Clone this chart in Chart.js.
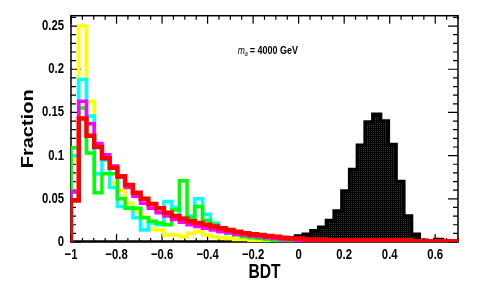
<!DOCTYPE html>
<html>
<head>
<meta charset="utf-8">
<script src="https://cdn.jsdelivr.net/npm/chart.js@4.4.0/dist/chart.umd.min.js"></script>
<style>
html, body { margin: 0; padding: 0; background: #fff; }
</style>
</head>
<body>
<canvas id="myChart" width="477" height="307"></canvas>
<script>
// histogram binning: 50 bins from -1 to 0.7
var xMin = -1;
var xMax = 0.7;
var binWidth = 0.034;
var yMax = 0.262;

var xTicks = [-1, -0.8, -0.6, -0.4, -0.2, 0, 0.2, 0.4, 0.6];
var yTicks = [0, 0.05, 0.1, 0.15, 0.2, 0.25];

// fraction per bin
var yellowVals = [0.095, 0.250, 0.163, 0.112, 0.100, 0.068, 0.060, 0.045, 0.035, 0.029,
                  0.015, 0.014, 0.008, 0.008, 0.006, 0.010, 0.012, 0.008, 0.006, 0.005,
                  0.004, 0.003, 0.003, 0.002, 0.002, 0.001, 0.001, 0.001, 0.001, 0.001,
                  0.001, 0.001, 0.001, 0.001, 0.001, 0.001, 0.001, 0.001, 0.001, 0.001,
                  0.001, 0.001, 0.001, 0.001, 0.001, 0.001, 0.001, 0.001, 0.001, 0.001];
var cyanVals = [0.100, 0.188, 0.146, 0.079, 0.095, 0.063, 0.041, 0.040, 0.028, 0.014,
                0.022, 0.020, 0.047, 0.040, 0.028, 0.030, 0.050, 0.032, 0.022, 0.016,
                0.013, 0.011, 0.009, 0.007, 0.006, 0.005, 0.004, 0.003, 0.002, 0.002,
                0.001, 0.001, 0.001, 0.001, 0.001, 0.001, 0.001, 0.001, 0.001, 0.001,
                0.001, 0.001, 0.001, 0.001, 0.001, 0.001, 0.001, 0.001, 0.001, 0.001];
var greenVals = [0.109, 0.155, 0.103, 0.057, 0.079, 0.079, 0.050, 0.039, 0.039, 0.028,
                 0.024, 0.022, 0.020, 0.037, 0.071, 0.028, 0.041, 0.025, 0.020, 0.013,
                 0.010, 0.008, 0.006, 0.005, 0.004, 0.003, 0.002, 0.002, 0.001, 0.001,
                 0.001, 0.001, 0.001, 0.001, 0.001, 0.001, 0.001, 0.001, 0.001, 0.001,
                 0.001, 0.001, 0.001, 0.001, 0.001, 0.001, 0.001, 0.001, 0.001, 0.001];
var magentaVals = [0.058, 0.163, 0.137, 0.114, 0.101, 0.088, 0.075, 0.063, 0.053, 0.045,
                   0.039, 0.034, 0.030, 0.026, 0.023, 0.020, 0.018, 0.016, 0.014, 0.012,
                   0.011, 0.009, 0.008, 0.007, 0.006, 0.005, 0.004, 0.003, 0.003, 0.002,
                   0.002, 0.002, 0.001, 0.001, 0.001, 0.001, 0.001, 0.001, 0.001, 0.001,
                   0.001, 0.001, 0.001, 0.001, 0.001, 0.001, 0.001, 0.001, 0.001, 0.001];
var redVals = [0.048, 0.143, 0.123, 0.110, 0.097, 0.086, 0.076, 0.066, 0.057, 0.050,
               0.044, 0.039, 0.034, 0.030, 0.027, 0.024, 0.022, 0.020, 0.018, 0.016,
               0.014, 0.012, 0.010, 0.009, 0.008, 0.007, 0.006, 0.005, 0.004, 0.004,
               0.003, 0.003, 0.003, 0.002, 0.002, 0.002, 0.002, 0.002, 0.002, 0.002,
               0.002, 0.002, 0.002, 0.002, 0.001, 0.001, 0.001, 0.001, 0.001, 0.001];
var blackVals = [0, 0, 0, 0, 0, 0, 0, 0, 0, 0,
                 0, 0, 0, 0, 0, 0, 0, 0, 0, 0,
                 0, 0, 0, 0, 0.001, 0.001, 0.001, 0.002, 0.005, 0.007,
                 0.009, 0.013, 0.017, 0.025, 0.036, 0.059, 0.084, 0.112, 0.139, 0.148,
                 0.140, 0.113, 0.070, 0.030, 0.009, 0.002, 0.001, 0.003, 0.001, 0.001];

var labelFont = "'Liberation Sans', Arial, sans-serif";
// the original text is horizontally compressed
var squeeze = 0.78;

// outline of a histogram: up at left edge, step across each bin, down at right edge
function histPoints(vals) {
    var pts = [{x: xMin, y: 0}];
    for (var i = 0; i < vals.length; i++) {
        pts.push({x: xMin + binWidth * (i + 1), y: vals[i]});
    }
    pts.push({x: xMin + binWidth * vals.length, y: 0});
    return pts;
}

function fmt(v) {
    return String(v).replace('-', '\u2212');
}

var ctx = document.getElementById('myChart').getContext('2d');

// squeeze every text run horizontally (screen x) around its anchor
var rawFillText = CanvasRenderingContext2D.prototype.fillText;
ctx.fillText = function (text, x, y) {
    var m = this.getTransform();
    var p = m.transformPoint(new DOMPoint(x, y));
    this.save();
    this.setTransform(new DOMMatrix().translate(p.x, p.y).scale(squeeze, 1).translate(-p.x, -p.y).multiply(m));
    rawFillText.call(this, text, x, y);
    this.restore();
};

// dark dotted fill like the ROOT pattern
var tile = document.createElement('canvas');
tile.width = 2;
tile.height = 2;
var tctx = tile.getContext('2d');
tctx.fillStyle = '#000';
tctx.fillRect(0, 0, 2, 2);
tctx.fillStyle = '#363636';
tctx.fillRect(1, 1, 1, 1);
var dotFill = ctx.createPattern(tile, 'repeat');

function histSet(vals, color, width, order) {
    return {
        data: histPoints(vals),
        borderColor: color,
        borderWidth: width,
        stepped: 'after',
        pointRadius: 0,
        fill: false,
        order: order
    };
}

var blackSet = histSet(blackVals, '#000', 3.5, 5);
blackSet.fill = 'origin';
blackSet.backgroundColor = dotFill;

var rootFrame = {
    id: 'rootFrame',
    beforeDatasetsDraw: function (chart) {
        var c = chart.ctx;
        var a = chart.chartArea;
        var xs = chart.scales.x;
        var ys = chart.scales.y;
        c.save();
        c.strokeStyle = '#000';
        c.lineWidth = 1.5;
        c.strokeRect(a.left, a.top, a.right - a.left, a.bottom - a.top);
        c.lineWidth = 1.2;
        c.beginPath();
        for (var k = 0; k <= 34; k++) {
            var v = xMin + 0.05 * k;
            var len = (k % 4 === 0) ? 8 : 4;
            var px = xs.getPixelForValue(v);
            c.moveTo(px, a.bottom);
            c.lineTo(px, a.bottom - len);
            c.moveTo(px, a.top);
            c.lineTo(px, a.top + len);
        }
        for (var j = 0; j <= 26; j++) {
            var py = ys.getPixelForValue(0.01 * j);
            var ylen = (j % 5 === 0) ? 10 : 5;
            c.moveTo(a.left, py);
            c.lineTo(a.left + ylen, py);
            c.moveTo(a.right, py);
            c.lineTo(a.right - ylen, py);
        }
        c.stroke();
        c.restore();
    },
    afterDraw: function (chart) {
        var c = chart.ctx;
        var px = chart.scales.x.getPixelForValue(-0.268);
        var py = chart.scales.y.getPixelForValue(0.218);
        c.save();
        c.fillStyle = '#000';
        c.textAlign = 'left';
        c.textBaseline = 'alphabetic';
        c.font = 'italic 11px ' + labelFont;
        c.fillText('m', px, py);
        var w = c.measureText('m').width * squeeze;
        c.font = 'italic 7px ' + labelFont;
        c.fillText('a', px + w, py + 2);
        c.font = 'bold 11.5px ' + labelFont;
        c.fillText('= 4000 GeV', px + w + 5, py);
        c.restore();
    }
};

var chart = new Chart(ctx, {
    type: 'line',
    data: {
        datasets: [
            histSet(redVals, '#ff0000', 4.5, 0),
            histSet(magentaVals, '#ff00ff', 3.5, 1),
            histSet(greenVals, '#00ff00', 3.5, 2),
            histSet(cyanVals, '#00ffff', 3.5, 3),
            histSet(yellowVals, '#ffff00', 3.5, 4),
            blackSet
        ]
    },
    options: {
        responsive: false,
        animation: false,
        devicePixelRatio: 1,
        layout: {padding: {top: 14, right: 19, left: 0, bottom: 0}},
        plugins: {legend: {display: false}, tooltip: {enabled: false}},
        scales: {
            x: {
                type: 'linear',
                min: xMin,
                max: xMax,
                grid: {display: false, drawTicks: false},
                border: {display: false},
                afterBuildTicks: function (s) {
                    s.ticks = xTicks.map(function (v) { return {value: v}; });
                },
                afterFit: function (s) { s.height = 65; },
                ticks: {
                    autoSkip: false,
                    maxRotation: 0,
                    padding: 4,
                    color: '#000',
                    font: {family: labelFont, size: 14.5, weight: 'bold'},
                    callback: function (v) { return fmt(v); }
                },
                title: {
                    display: true,
                    text: 'BDT',
                    color: '#000',
                    font: {family: labelFont, size: 20, weight: 'bold'},
                    padding: {top: 0, bottom: 23}
                }
            },
            y: {
                type: 'linear',
                min: 0,
                max: yMax,
                grid: {display: false, drawTicks: false},
                border: {display: false},
                afterBuildTicks: function (s) {
                    s.ticks = yTicks.map(function (v) { return {value: v}; });
                },
                afterFit: function (s) { s.width = 71; },
                ticks: {
                    padding: 7,
                    color: '#000',
                    font: {family: labelFont, size: 14.5, weight: 'bold'},
                    callback: function (v) { return fmt(v); }
                },
                title: {
                    display: true,
                    text: 'Fraction',
                    color: '#000',
                    font: {family: labelFont, size: 20, weight: 'bold'},
                    padding: {top: 17, bottom: 0}
                }
            }
        }
    },
    plugins: [rootFrame]
});
</script>
</body>
</html>
